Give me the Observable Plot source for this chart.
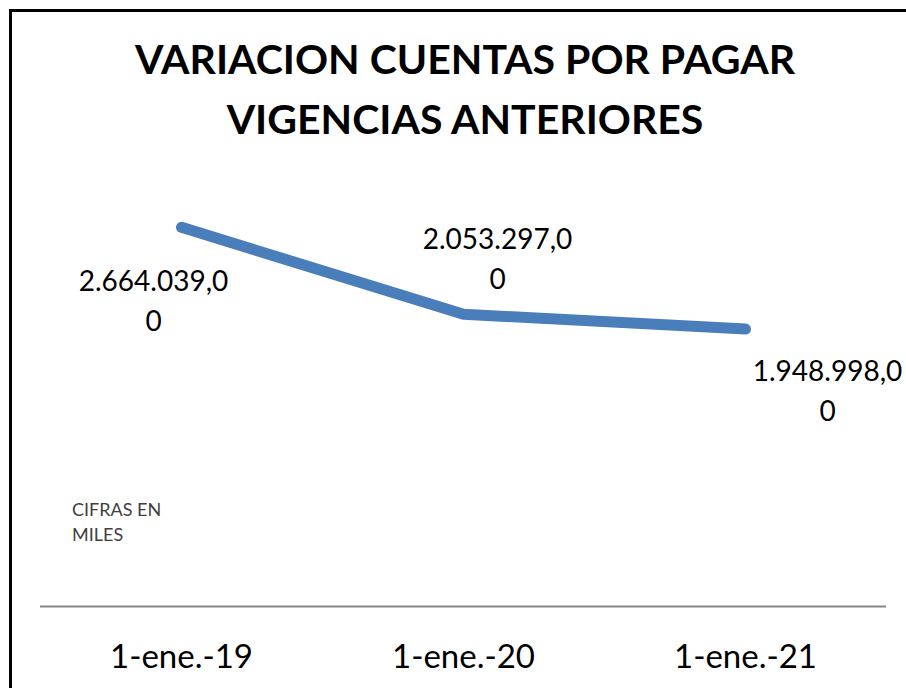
<!DOCTYPE html>
<html>
<head>
<meta charset="utf-8">
<script src="https://cdn.jsdelivr.net/npm/d3@7"></script>
<script src="https://cdn.jsdelivr.net/npm/@observablehq/plot@0.6"></script>
<style>
  html, body { margin: 0; padding: 0; background: #fff; }
  body { width: 906px; height: 688px; overflow: hidden; position: relative; font-family: Lato, "Open Sans", sans-serif; }
  #frame { position: absolute; left: 9px; top: 9px; width: 1200px; height: 1200px;
           border-left: 3px solid #000; border-top: 3px solid #000; box-sizing: border-box; }
  #title { position: absolute; left: 0; width: 930px; top: 29px; text-align: center;
           font-weight: 700; font-size: 41px; line-height: 60px; color: #000; }
  #note { position: absolute; left: 72px; top: 497px; font-size: 18px; line-height: 25px; color: #404040; }
  #chart { position: absolute; left: 0; top: 0; }
</style>
</head>
<body>
<div id="frame"></div>
<div id="chart"></div>
<div id="title">VARIACION CUENTAS POR PAGAR<br>VIGENCIAS ANTERIORES</div>
<div id="note">CIFRAS EN<br>MILES</div>
<script>
const fechas = ["1-ene.-19", "1-ene.-20", "1-ene.-21"];
const valores = [2664039, 2053297, 1948998];
const yDominio = [0, 3000000];

const data = fechas.map((f, i) => ({fecha: f, valor: valores[i], i}));
const fmt = d3.formatLocale({decimal: ",", thousands: ".", grouping: [3], currency: ["$", ""]}).format(",.2f");
const etiqueta = d => { const s = fmt(d.valor); return s.slice(0, -1) + "\n" + s.slice(-1); };

const labelOpts = {x: "fecha", y: "valor", text: etiqueta, fontSize: 28, lineAnchor: "top",
                   lineHeight: 1.41, textAnchor: "middle", fill: "#000"};

const chart = Plot.plot({
  width: 906,
  height: 688,
  marginLeft: 40,
  marginRight: 20,
  marginTop: 179,
  marginBottom: 82,
  style: {fontFamily: "Lato, 'Open Sans', sans-serif", color: "#000", background: "transparent", overflow: "visible"},
  x: {type: "point", domain: fechas, padding: 0.5},
  y: {domain: yDominio, axis: null},
  marks: [
    Plot.ruleY([0], {stroke: "#868686", strokeWidth: 2}),
    Plot.axisX({tickSize: 0, tickPadding: 38, fontSize: 33, label: null}),
    Plot.line(data, {x: "fecha", y: "valor", stroke: "#4a7ebb", strokeWidth: 11,
                     strokeLinecap: "round", strokeLinejoin: "round"}),
    Plot.text(data.filter(d => d.i === 0), {...labelOpts, dx: -28, dy: 36}),
    Plot.text(data.filter(d => d.i === 1), {...labelOpts, dx: 34, dy: -93}),
    Plot.text(data.filter(d => d.i === 2), {...labelOpts, dx: 82, dy: 24})
  ]
});
document.getElementById("chart").appendChild(chart);
</script>
</body>
</html>
